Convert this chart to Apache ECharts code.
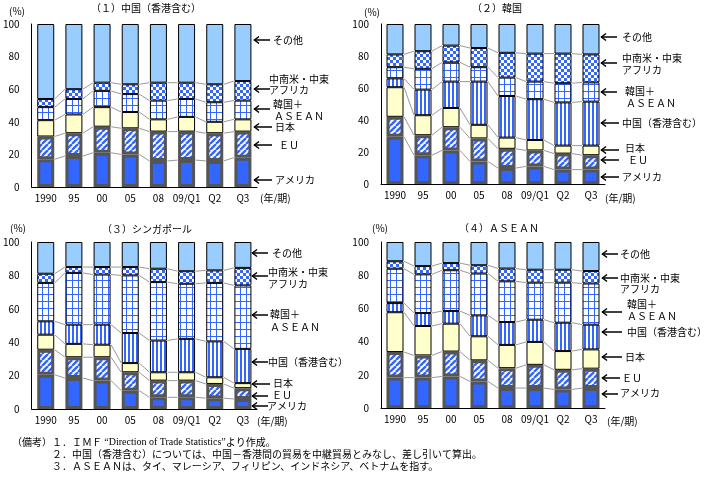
<!DOCTYPE html>
<html>
<head>
<meta charset="utf-8">
<script src="https://cdn.jsdelivr.net/npm/echarts@6/dist/echarts.min.js"></script>
<style>
html, body { margin: 0; padding: 0; background: #fff; }
#main { width: 705px; height: 478px; }
</style>
</head>
<body>
<div id="main"></div>
<script>
var categories = ['1990', '95', '00', '05', '08', '09/Q1', 'Q2', 'Q3'];

// (1) 中国（香港含む）
var cnAmerica  = [17, 19, 21, 20, 16, 16.5, 16, 18];
var cnEU       = [14, 14, 16, 16, 18, 17.5, 17, 16];
var cnJapan    = [10, 11.5, 12, 10, 7.5, 9, 7, 7.5];
var cnKorAsean = [8, 9.5, 10, 11, 11.5, 11, 12, 11.5];
var cnLatam    = [5, 6, 5, 6, 11, 10, 11, 12];
var cnOther    = [46, 40, 36, 37, 36, 36, 37, 35];

// (2) 韓国
var krAmerica  = [29.5, 18, 21, 14, 10, 11, 9, 9];
var krEU       = [12.5, 12.5, 14.5, 14.5, 12, 10, 10, 9];
var krJapan    = [18.5, 12.5, 12, 8.5, 7, 6.5, 5, 6];
var krChina    = [5.5, 16, 16.5, 27, 26, 25.5, 27, 27.5];
var krKorAsean = [7, 13, 12, 9, 11.5, 11, 12, 12];
var krLatam    = [8, 11, 10.5, 12, 15.5, 17.5, 18.5, 17.5];
var krOther    = [19, 17, 13.5, 15, 18, 18.5, 18.5, 19];

// (3) シンガポール
var sgAmerica  = [20.5, 18.5, 17, 11, 7, 7, 6.5, 6];
var sgEU       = [15, 12.5, 14, 11, 10, 10, 8.5, 6.5];
var sgJapan    = [9, 8, 7.5, 5.5, 5, 5, 4, 3];
var sgChina    = [8, 11.5, 12, 18, 19, 20, 21.5, 20.5];
var sgKorAsean = [23, 31, 30, 34.5, 35, 33, 35, 38];
var sgLatam    = [5.5, 3.5, 4.5, 5, 8, 7.5, 7.5, 10.5];
var sgOther    = [19, 15, 15, 15, 16, 17.5, 17, 15.5];

// (4) ASEAN
var asAmerica  = [18.3, 18.3, 19, 16, 12, 12, 11.2, 12];
var asEU       = [15.4, 13.4, 15, 12.7, 12, 14, 11.8, 11.7];
var asJapan    = [24, 17.7, 16.8, 14.5, 14, 13.8, 11.3, 11.6];
var asChina    = [5.5, 7.8, 7.6, 12.6, 13.8, 13.4, 17.1, 14.9];
var asKorAsean = [20.7, 23.3, 24.6, 25.2, 24.5, 22.3, 24.1, 24.8];
var asLatam    = [4.5, 5, 4.3, 5, 7.7, 7.8, 7.8, 7.5];
var asOther    = [11.6, 14.5, 12.7, 14, 16, 16.7, 16.7, 17.5];

var BLUE = '#3366FF';
var FONT = '"Noto Sans CJK JP", sans-serif';

function makePattern(w, h, draw) {
	var c = document.createElement('canvas');
	c.width = w;
	c.height = h;
	var ctx = c.getContext('2d');
	ctx.fillStyle = '#fff';
	ctx.fillRect(0, 0, w, h);
	ctx.fillStyle = BLUE;
	ctx.strokeStyle = BLUE;
	draw(ctx);
	return { image: c, repeat: 'repeat' };
}

var diagPattern = makePattern(6, 6, function(ctx) {
	ctx.lineWidth = 2.4;
	for (var k = -6; k <= 6; k += 6) {
		ctx.beginPath();
		ctx.moveTo(k, 6);
		ctx.lineTo(k + 6, 0);
		ctx.stroke();
	}
});
var vertPattern = makePattern(4, 2, function(ctx) {
	ctx.fillRect(0, 0, 2, 2);
});
var gridPattern = makePattern(6, 7, function(ctx) {
	ctx.fillRect(0, 0, 1, 7);
	ctx.fillRect(0, 0, 6, 1);
});
var checkPattern = makePattern(6, 6, function(ctx) {
	ctx.fillRect(0, 0, 3, 3);
	ctx.fillRect(3, 3, 3, 3);
});

var segStyle = {
	america:  { color: BLUE, borderColor: '#555', borderWidth: 3 },
	eu:       { color: diagPattern, borderColor: '#555', borderWidth: 3 },
	japan:    { color: '#FFFFCC', borderColor: '#000', borderWidth: 1 },
	china:    { color: vertPattern, borderColor: '#000', borderWidth: 1 },
	korAsean: { color: gridPattern, borderColor: '#000', borderWidth: 1 },
	latam:    { color: checkPattern, borderColor: '#000', borderWidth: 1 },
	other:    { color: '#99CCFF', borderColor: '#000', borderWidth: 1 }
};

var panels = [
	{ grid: { left: 31, top: 24, width: 226, height: 163 },
	  segs: [['america', cnAmerica], ['eu', cnEU], ['japan', cnJapan], ['korAsean', cnKorAsean], ['latam', cnLatam], ['other', cnOther]] },
	{ grid: { left: 381, top: 24, width: 224, height: 160 },
	  segs: [['america', krAmerica], ['eu', krEU], ['japan', krJapan], ['china', krChina], ['korAsean', krKorAsean], ['latam', krLatam], ['other', krOther]] },
	{ grid: { left: 31, top: 242, width: 226, height: 167 },
	  segs: [['america', sgAmerica], ['eu', sgEU], ['japan', sgJapan], ['china', sgChina], ['korAsean', sgKorAsean], ['latam', sgLatam], ['other', sgOther]] },
	{ grid: { left: 381, top: 242, width: 224, height: 166 },
	  segs: [['america', asAmerica], ['eu', asEU], ['japan', asJapan], ['china', asChina], ['korAsean', asKorAsean], ['latam', asLatam], ['other', asOther]] }
];

var grids = [], xAxes = [], yAxes = [], series = [];

panels.forEach(function(p, pi) {
	grids.push(p.grid);
	xAxes.push({
		type: 'category', gridIndex: pi, data: categories,
		axisTick: { show: false },
		axisLine: { lineStyle: { color: '#000', width: 1 } },
		axisLabel: { color: '#000', fontSize: 10, fontFamily: FONT, margin: 6, interval: 0 }
	});
	yAxes.push({
		type: 'value', gridIndex: pi, min: 0, max: 100, interval: 20,
		splitLine: { show: false },
		axisTick: { show: false },
		axisLine: { show: true, lineStyle: { color: '#000', width: 1 } },
		axisLabel: { color: '#000', fontSize: 10, fontFamily: FONT, margin: 12 }
	});
	p.segs.forEach(function(s) {
		series.push({
			type: 'bar', name: s[0] + pi, stack: 'p' + pi,
			xAxisIndex: pi, yAxisIndex: pi,
			barWidth: 17, z: 3,
			itemStyle: segStyle[s[0]],
			data: s[1]
		});
	});
	// thin grey lines joining segment tops from bar to bar
	var inner = p.segs.slice(0, p.segs.length - 1);
	series.push({
		type: 'custom', xAxisIndex: pi, yAxisIndex: pi, z: 1, silent: true,
		data: categories.slice(0, categories.length - 1).map(function(c, i) { return [i, 0]; }),
		renderItem: function(params, api) {
			var i = params.dataIndex;
			var c1 = 0, c2 = 0, children = [];
			inner.forEach(function(s) {
				c1 += s[1][i];
				c2 += s[1][i + 1];
				var a = api.coord([i, c1]);
				var b = api.coord([i + 1, c2]);
				children.push({
					type: 'line',
					shape: { x1: a[0] + 9, y1: a[1], x2: b[0] - 9, y2: b[1] },
					style: { stroke: '#999', lineWidth: 1 }
				});
			});
			return { type: 'group', children: children };
		}
	});
});

var graphics = [];

function addText(text, x, y, align, rich) {
	graphics.push({
		type: 'text', silent: true,
		style: { text: text, x: x, y: y, fill: '#000', fontSize: 10, fontFamily: FONT,
			textAlign: align || 'left', textVerticalAlign: 'middle', rich: rich }
	});
}

function addArrow(x, y, len) {
	len = len || 16;
	graphics.push({
		type: 'group', silent: true,
		children: [
			{ type: 'line', shape: { x1: x, y1: y, x2: x + len, y2: y }, style: { stroke: '#000', lineWidth: 1.5 } },
			{ type: 'polyline', shape: { points: [[x + 5, y - 3.5], [x + 0.5, y], [x + 5, y + 3.5]] }, style: { stroke: '#000', lineWidth: 1.5, fill: null } }
		]
	});
}

// titles and unit labels
addText('（１）中国（香港含む）', 146, 8, 'center');
addText('（２）韓国', 497, 8, 'center');
addText('（３）シンガポール', 147, 229, 'center');
addText('（４）ＡＳＥＡＮ', 499, 228, 'center');
addText('(%)', 9, 11);
addText('(%)', 364, 12);
addText('(%)', 10, 228);
addText('(%)', 372, 228);
addText('(年/期)', 260, 198);
addText('(年/期)', 605, 198);
addText('(年/期)', 257, 421);
addText('(年/期)', 607, 421);

// (1)
addArrow(254, 40); addText('その他', 273, 40);
addText('中南米・中東', 269, 79); addArrow(254, 89); addText('アフリカ', 269, 90);
addText('韓国＋', 273, 104); addArrow(254, 109); addText('ＡＳＥＡＮ', 274, 116);
addArrow(254, 127, 18); addText('日本', 275, 127);
addArrow(254, 145, 18); addText('ＥＵ', 279, 145);
addArrow(254, 180, 18); addText('アメリカ', 275, 180);

// (2)
addArrow(601, 37); addText('その他', 622, 37);
addText('中南米・中東', 622, 58); addArrow(601, 63); addText('アフリカ', 622, 70);
addText('韓国＋', 625, 91); addArrow(601, 92); addText('ＡＳＥＡＮ', 626, 103);
addArrow(601, 123, 18); addText('中国（香港含む）', 622, 123);
addText('日本', 625, 148); addArrow(601, 150, 18);
addArrow(601, 160, 18); addText('ＥＵ', 628, 160);
addArrow(601, 177, 18); addText('アメリカ', 622, 177);

// (3)
addArrow(252, 253); addText('その他', 272, 253);
addText('中南米・中東', 268, 272); addArrow(252, 276); addText('アフリカ', 268, 284);
addText('韓国＋', 270, 314); addArrow(252, 315); addText('ＡＳＥＡＮ', 270, 327);
addArrow(252, 362); addText('中国（香港含む）', 268, 362);
addArrow(252, 384, 18); addText('日本', 273, 383);
addArrow(252, 396); addText('ＥＵ', 272, 395);
addArrow(252, 406); addText('アメリカ', 267, 406);

// (4)
addArrow(602, 254); addText('その他', 620, 254);
addArrow(602, 278); addText('中南米・中東', 620, 278); addText('アフリカ', 620, 289);
addText('韓国＋', 627, 304); addArrow(602, 312, 20); addText('ＡＳＥＡＮ', 627, 316);
addArrow(602, 332, 20); addText('中国（香港含む）', 627, 332);
addArrow(602, 357, 20); addText('日本', 625, 357);
addArrow(602, 378, 18); addText('ＥＵ', 622, 378);
addArrow(602, 394, 16); addText('アメリカ', 620, 393);

// footnotes
addText('（備考）１．ＩＭＦ {s|“Direction of Trade Statistics”}より作成。', 12, 442, 'left',
	{ s: { fontFamily: '"Liberation Serif", serif', fontSize: 10, fill: '#000' } });
addText('２．中国（香港含む）については、中国－香港間の貿易を中継貿易とみなし、差し引いて算出。', 52, 454);
addText('３．ＡＳＥＡＮは、タイ、マレーシア、フィリピン、インドネシア、ベトナムを指す。', 52, 466);

var myChart = echarts.init(document.getElementById('main'), null, { renderer: 'canvas' });
myChart.setOption({
	animation: false,
	backgroundColor: '#fff',
	grid: grids,
	xAxis: xAxes,
	yAxis: yAxes,
	series: series,
	graphic: graphics
});
</script>
</body>
</html>
